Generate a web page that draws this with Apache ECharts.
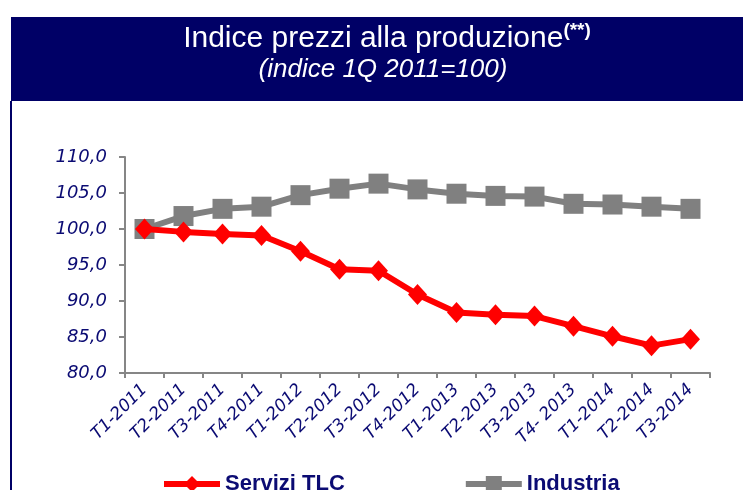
<!DOCTYPE html>
<html>
<head>
<meta charset="utf-8">
<script src="https://cdn.jsdelivr.net/npm/echarts@6/dist/echarts.min.js"></script>
<style>
  html, body { margin: 0; padding: 0; background: #fff; }
  #chart { width: 743px; height: 490px; }
</style>
</head>
<body>
<div id="chart"></div>
<script>
// trimestri
var categories = ['T1-2011', 'T2-2011', 'T3-2011', 'T4-2011', 'T1-2012', 'T2-2012', 'T3-2012', 'T4-2012',
    'T1-2013', 'T2-2013', 'T3-2013', 'T4- 2013', 'T1-2014', 'T2-2014', 'T3-2014'];
var serviziTLC = [100.0, 99.6, 99.3, 99.1, 96.9, 94.4, 94.2, 90.9, 88.4, 88.1, 87.9, 86.5, 85.1, 83.8, 84.7];
var industria = [100.0, 101.8, 102.8, 103.1, 104.7, 105.6, 106.3, 105.5, 104.9, 104.6, 104.5, 103.5, 103.4, 103.1, 102.8];
var yTicks = [80, 85, 90, 95, 100, 105, 110];

var navy = '#000066';
var labelColor = '#0b0b73';

var myChart = echarts.init(document.getElementById('chart'));
var option = {
    animation: false,
    graphic: [
        { type: 'rect', shape: { x: 11, y: 17, width: 732, height: 84 }, style: { fill: navy } },
        { type: 'line', shape: { x1: 11, y1: 101, x2: 11, y2: 490 }, style: { stroke: navy, lineWidth: 2 } },
        {
            type: 'text', x: 387, y: 39,
            style: {
                text: '{a|Indice prezzi alla produzione}{b|(**)}',
                align: 'center', verticalAlign: 'middle',
                rich: {
                    a: { fontFamily: 'Liberation Sans, Arial, sans-serif', fontSize: 30, fill: '#fff' },
                    b: { fontFamily: 'Liberation Sans, Arial, sans-serif', fontSize: 19, fontWeight: 'bold', fill: '#fff', verticalAlign: 'top', padding: [0, 0, 16, 0] }
                }
            }
        },
        {
            type: 'text', x: 383, y: 70,
            style: {
                text: '(indice 1Q 2011=100)',
                align: 'center', verticalAlign: 'middle',
                fontFamily: 'Liberation Sans, Arial, sans-serif', fontStyle: 'italic', fontSize: 26, fill: '#fff'
            }
        }
    ],
    legend: {
        left: 156,
        top: 468,
        itemWidth: 56,
        itemHeight: 20,
        itemGap: 118,
        itemTextGap: 3,
        lineStyle: { width: 6 },
        textStyle: { color: labelColor, fontFamily: 'Liberation Sans, Arial, sans-serif', fontWeight: 'bold', fontSize: 22 },
        data: ['Servizi TLC', 'Industria']
    },
    grid: { left: 125, right: 33, top: 157, bottom: 117 },
    xAxis: {
        type: 'category',
        data: categories,
        boundaryGap: true,
        axisLine: { lineStyle: { color: '#868686', width: 2 } },
        axisTick: { show: true, length: 5, lineStyle: { color: '#868686', width: 2 } },
        axisLabel: {
            interval: 0, rotate: 45, margin: 14,
            color: labelColor, fontFamily: 'DejaVu Sans, Verdana, sans-serif', fontStyle: 'italic', fontSize: 17
        }
    },
    yAxis: {
        type: 'value',
        min: yTicks[0],
        max: yTicks[yTicks.length - 1],
        interval: 5,
        splitLine: { show: false },
        axisLine: { show: true, lineStyle: { color: '#868686', width: 2 } },
        axisTick: { show: true, length: 6, lineStyle: { color: '#868686', width: 2 } },
        axisLabel: {
            margin: 18,
            color: labelColor, fontFamily: 'DejaVu Sans, Verdana, sans-serif', fontStyle: 'italic', fontSize: 18,
            formatter: function(v) { return v.toFixed(1).replace('.', ','); }
        }
    },
    series: [{
        name: 'Servizi TLC',
        type: 'line',
        data: serviziTLC,
        symbol: 'diamond',
        symbolSize: [19, 21],
        lineStyle: { color: '#ff0000', width: 6 },
        itemStyle: { color: '#ff0000' },
        z: 3
    }, {
        name: 'Industria',
        type: 'line',
        data: industria,
        symbol: 'rect',
        symbolSize: 20,
        lineStyle: { color: '#808080', width: 6 },
        itemStyle: { color: '#808080' },
        z: 2
    }]
};
myChart.setOption(option);
</script>
</body>
</html>
